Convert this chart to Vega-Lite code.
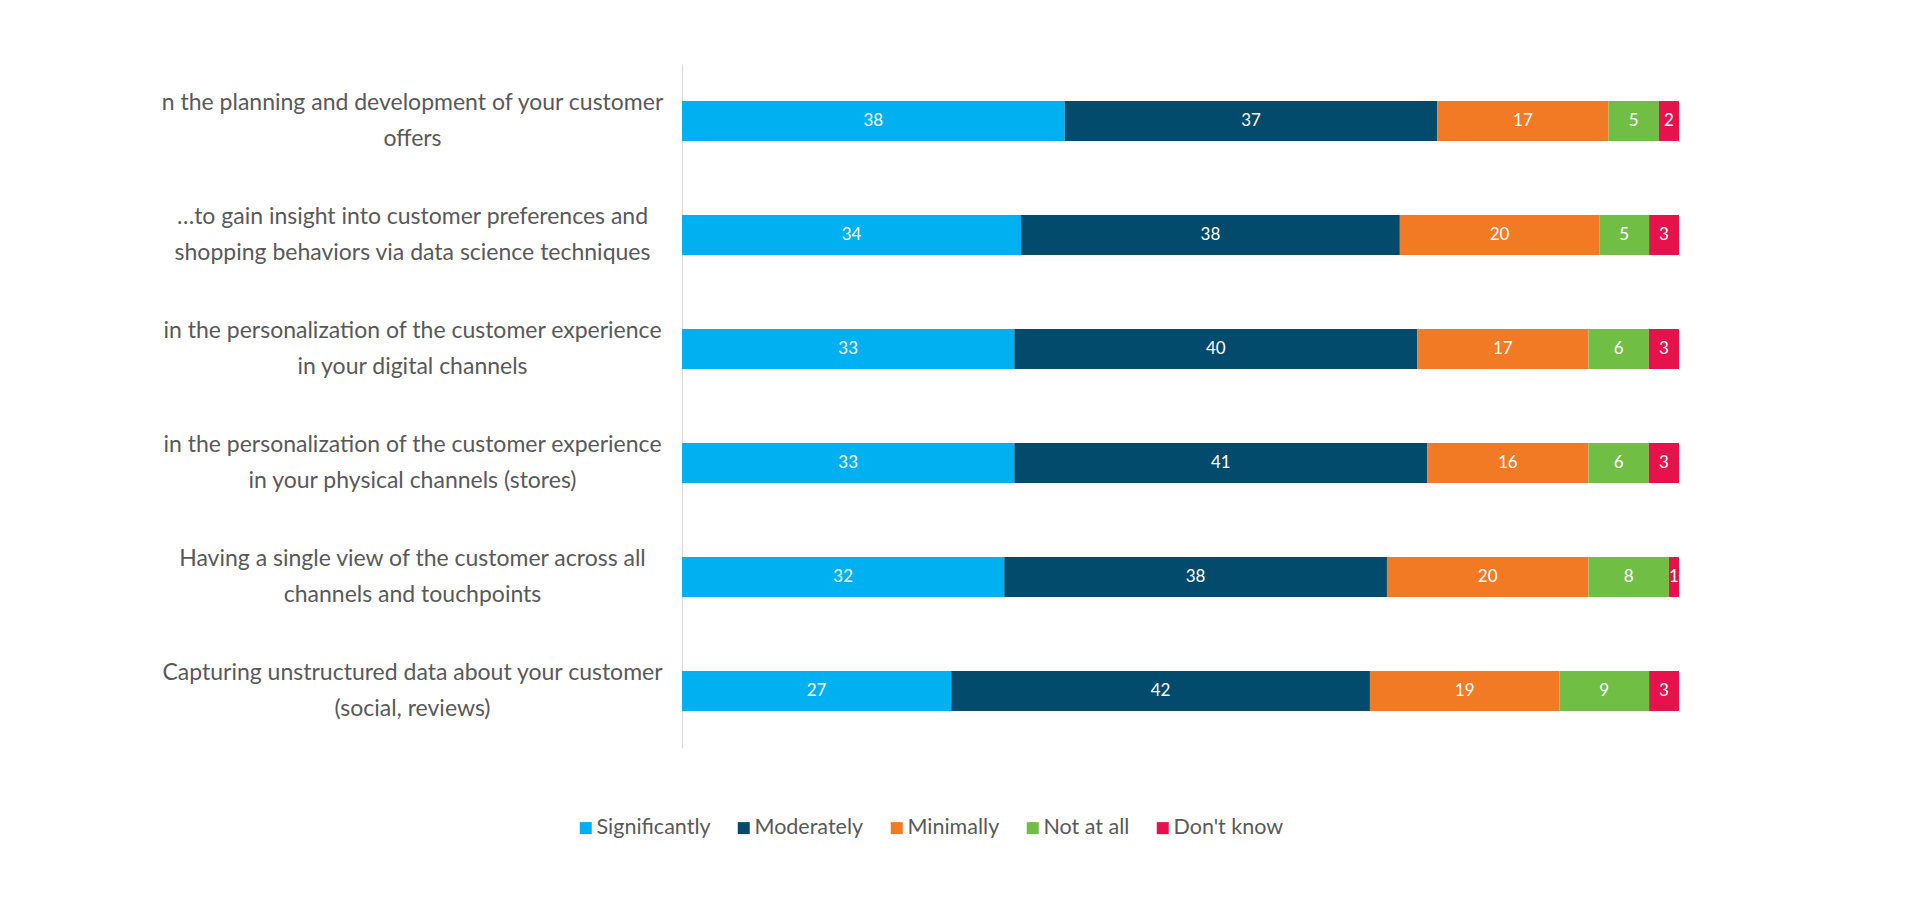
{
  "$schema": "https://vega.github.io/schema/vega-lite/v6.json",
  "autosize": "none",
  "width": 997,
  "height": 684,
  "padding": {"left": 682, "top": 64, "right": 241, "bottom": 158},
  "background": "#ffffff",
  "data": {
    "values": [
      {"item": "n the planning and development of your customer|offers", "answer": "Significantly", "rank": 1, "value": 38},
      {"item": "n the planning and development of your customer|offers", "answer": "Moderately", "rank": 2, "value": 37},
      {"item": "n the planning and development of your customer|offers", "answer": "Minimally", "rank": 3, "value": 17},
      {"item": "n the planning and development of your customer|offers", "answer": "Not at all", "rank": 4, "value": 5},
      {"item": "n the planning and development of your customer|offers", "answer": "Don't know", "rank": 5, "value": 2},

      {"item": "…to gain insight into customer preferences and|shopping behaviors via data science techniques", "answer": "Significantly", "rank": 1, "value": 34},
      {"item": "…to gain insight into customer preferences and|shopping behaviors via data science techniques", "answer": "Moderately", "rank": 2, "value": 38},
      {"item": "…to gain insight into customer preferences and|shopping behaviors via data science techniques", "answer": "Minimally", "rank": 3, "value": 20},
      {"item": "…to gain insight into customer preferences and|shopping behaviors via data science techniques", "answer": "Not at all", "rank": 4, "value": 5},
      {"item": "…to gain insight into customer preferences and|shopping behaviors via data science techniques", "answer": "Don't know", "rank": 5, "value": 3},

      {"item": "in the personalization of the customer experience|in your digital channels", "answer": "Significantly", "rank": 1, "value": 33},
      {"item": "in the personalization of the customer experience|in your digital channels", "answer": "Moderately", "rank": 2, "value": 40},
      {"item": "in the personalization of the customer experience|in your digital channels", "answer": "Minimally", "rank": 3, "value": 17},
      {"item": "in the personalization of the customer experience|in your digital channels", "answer": "Not at all", "rank": 4, "value": 6},
      {"item": "in the personalization of the customer experience|in your digital channels", "answer": "Don't know", "rank": 5, "value": 3},

      {"item": "in the personalization of the customer experience|in your physical channels (stores)", "answer": "Significantly", "rank": 1, "value": 33},
      {"item": "in the personalization of the customer experience|in your physical channels (stores)", "answer": "Moderately", "rank": 2, "value": 41},
      {"item": "in the personalization of the customer experience|in your physical channels (stores)", "answer": "Minimally", "rank": 3, "value": 16},
      {"item": "in the personalization of the customer experience|in your physical channels (stores)", "answer": "Not at all", "rank": 4, "value": 6},
      {"item": "in the personalization of the customer experience|in your physical channels (stores)", "answer": "Don't know", "rank": 5, "value": 3},

      {"item": "Having a single view of the customer across all|channels and touchpoints", "answer": "Significantly", "rank": 1, "value": 32},
      {"item": "Having a single view of the customer across all|channels and touchpoints", "answer": "Moderately", "rank": 2, "value": 38},
      {"item": "Having a single view of the customer across all|channels and touchpoints", "answer": "Minimally", "rank": 3, "value": 20},
      {"item": "Having a single view of the customer across all|channels and touchpoints", "answer": "Not at all", "rank": 4, "value": 8},
      {"item": "Having a single view of the customer across all|channels and touchpoints", "answer": "Don't know", "rank": 5, "value": 1},

      {"item": "Capturing unstructured data about your customer|(social, reviews)", "answer": "Significantly", "rank": 1, "value": 27},
      {"item": "Capturing unstructured data about your customer|(social, reviews)", "answer": "Moderately", "rank": 2, "value": 42},
      {"item": "Capturing unstructured data about your customer|(social, reviews)", "answer": "Minimally", "rank": 3, "value": 19},
      {"item": "Capturing unstructured data about your customer|(social, reviews)", "answer": "Not at all", "rank": 4, "value": 9},
      {"item": "Capturing unstructured data about your customer|(social, reviews)", "answer": "Don't know", "rank": 5, "value": 3}
    ]
  },
  "encoding": {
    "y": {
      "field": "item",
      "type": "nominal",
      "sort": null,
      "scale": {"paddingInner": 0.65, "paddingOuter": 0.325},
      "axis": {
        "title": null,
        "ticks": false,
        "domain": true,
        "domainColor": "#d9d9d9",
        "domainWidth": 1,
        "labelExpr": "split(datum.label, '|')",
        "labelAlign": "center",
        "labelPadding": 270,
        "labelOffset": -18,
        "labelLimit": 700,
        "labelFont": "Lato",
        "labelFontSize": 23,
        "labelLineHeight": 36,
        "labelColor": "#595959"
      }
    }
  },
  "layer": [
    {
      "mark": {"type": "bar"},
      "encoding": {
        "x": {"field": "value", "type": "quantitative", "stack": "normalize", "axis": null},
        "color": {
          "field": "answer",
          "type": "nominal",
          "scale": {
            "domain": ["Significantly", "Moderately", "Minimally", "Not at all", "Don't know"],
            "range": ["#00b0f0", "#034b6c", "#f27a25", "#70bf44", "#e5124b"]
          },
          "legend": {
            "title": null,
            "orient": "none",
            "direction": "horizontal",
            "legendX": -107,
            "legendY": 753,
            "symbolType": "square",
            "symbolSize": 144,
            "symbolStrokeWidth": 0,
            "labelFont": "Lato",
            "labelFontSize": 21.5,
            "labelColor": "#595959",
            "labelOffset": 0,
            "columnPadding": 22
          }
        },
        "order": {"field": "rank", "type": "quantitative", "sort": "ascending"}
      }
    },
    {
      "mark": {"type": "text", "color": "#ffffff", "font": "Lato", "fontSize": 17, "align": "center", "baseline": "middle"},
      "encoding": {
        "x": {"field": "value", "type": "quantitative", "stack": "normalize", "bandPosition": 0.5},
        "detail": {"field": "answer", "type": "nominal"},
        "order": {"field": "rank", "type": "quantitative", "sort": "ascending"},
        "text": {"field": "value", "type": "quantitative"}
      }
    }
  ],
  "config": {
    "view": {"stroke": null}
  }
}
